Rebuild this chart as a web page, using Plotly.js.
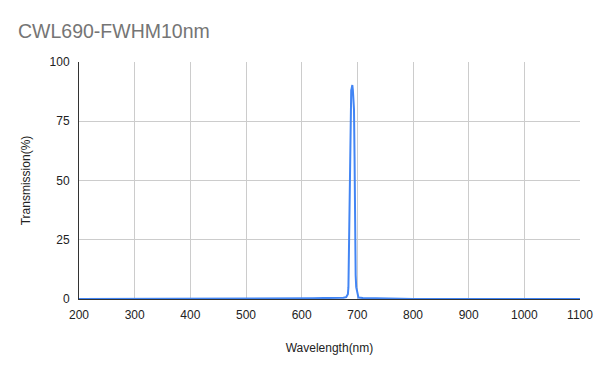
<!DOCTYPE html>
<html>
<head>
<meta charset="utf-8">
<script src="https://cdn.plot.ly/plotly-3.0.1.min.js"></script>
<style>html,body{margin:0;padding:0;background:#fff;}#chart{width:600px;height:371px;}</style>
</head>
<body>
<div id="chart"></div>
<script>
const wavelength = [200, 300, 400, 500, 580, 600, 620, 640, 660, 675, 680, 683, 684, 685, 685.5, 686, 687, 688, 689, 690, 691, 692, 693, 693.5, 694, 695, 695.5, 696, 697, 698, 699, 700, 702, 710, 730, 760, 780, 800, 900, 1000, 1100];
const transmission = [0, 0, 0, 0, 0, 0.1, 0.3, 0.4, 0.4, 0.5, 0.8, 2, 5, 24, 26, 48, 75, 86, 88, 89, 90.3, 88, 84, 80, 80, 60, 27, 18, 10, 5, 4, 2, 0.6, 0.4, 0.4, 0.3, 0.1, 0, 0, 0, 0];
const xTicks = [200, 300, 400, 500, 600, 700, 800, 900, 1000, 1100];
const yTicks = [0, 25, 50, 75, 100];

Plotly.newPlot('chart', [{
  x: wavelength, y: transmission, type: 'scatter', mode: 'lines',
  line: {color: '#4285F4', width: 2}, hoverinfo: 'none'
}], {
  width: 600, height: 371,
  margin: {l: 79, r: 20, t: 62, b: 72},
  paper_bgcolor: '#fff', plot_bgcolor: '#fff',
  font: {family: 'Liberation Sans, Arial, sans-serif', size: 12, color: '#222'},
  title: {text: 'CWL690-FWHM10nm', x: 0.03, xanchor: 'left', y: 0.915, yanchor: 'middle',
          font: {size: 19.5, color: '#757575', family: 'Liberation Sans, Arial, sans-serif'}},
  showlegend: false,
  xaxis: {
    range: [200, 1100], tickvals: xTicks, ticktext: xTicks.map(String),
    showgrid: true, gridcolor: '#cccccc', gridwidth: 1,
    showline: true, linecolor: '#333', linewidth: 1, zeroline: false,
    ticks: '', ticklabelstandoff: 5, tickfont: {size: 12, color: '#222'},
    title: {text: 'Wavelength(nm)', font: {size: 12, color: '#222'}, standoff: 22}
  },
  yaxis: {
    range: [0, 100], tickvals: yTicks, ticktext: yTicks.map(String),
    showgrid: true, gridcolor: '#cccccc', gridwidth: 1,
    showline: true, linecolor: '#333', linewidth: 1, zeroline: false,
    ticks: '', ticklabelstandoff: 6, tickfont: {size: 12, color: '#222'},
    title: {text: 'Transmission(%)', font: {size: 12, color: '#222'}, standoff: 16}
  }
}, {staticPlot: true});
</script>
</body>
</html>
